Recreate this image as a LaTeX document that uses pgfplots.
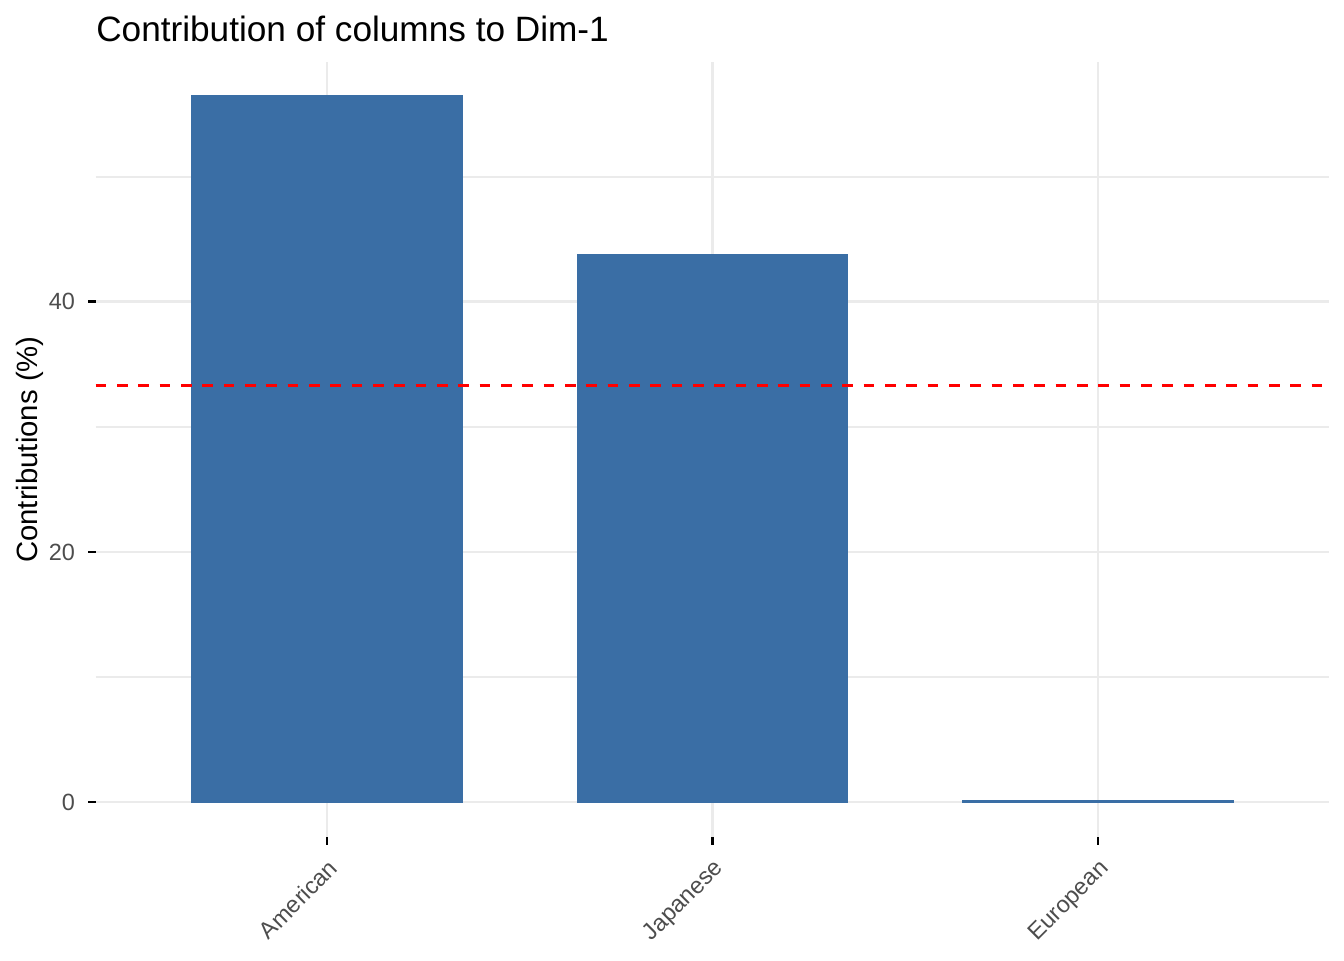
\documentclass[border=0pt]{standalone}
\usepackage{fontspec}
\setmainfont{Liberation Sans}
\usepackage{pgfplots}
\pgfplotsset{compat=1.18}
\definecolor{barblue}{RGB}{58,110,165}
\definecolor{gridgrey}{RGB}{235,235,235}
\definecolor{ticktext}{RGB}{77,77,77}
\begin{document}
\begin{tikzpicture}
\useasboundingbox (0,0) rectangle (504pt,360pt);
\begin{axis}[
  at={(35.9pt,46pt)}, anchor=south west,
  scale only axis, width=462.6pt, height=290.8pt,
  xmin=0.4, xmax=3.6, ymin=-2.83, ymax=59.2,
  axis x line*=bottom, axis y line*=left,
  axis line style={draw=none},
  xtick={1,2,3}, xticklabels={American,Japanese,European},
  ytick={0,20,40}, minor ytick={10,30,50},
  grid=major, yminorgrids,
  major grid style={gridgrey, line width=1.07pt},
  minor grid style={gridgrey, line width=0.53pt},
  tick align=outside, major tick length=2.75pt, minor tick length=0pt,
  major tick style={black, line width=1.07pt},
  tick label style={font=\fontsize{8.8}{10}\selectfont, text=ticktext},
  yticklabel style={xshift=-1.5pt},
  xticklabel style={rotate=45, anchor=north east},
  /pgf/number format/assume math mode=true,
  ylabel={Contributions (\%)},
  ylabel style={at={(axis description cs:-0.0533,0.5)}, anchor=center, font=\fontsize{11}{13}\selectfont},
  title={Contribution of columns to Dim-1},
  title style={at={(axis description cs:0,1)}, anchor=base west, yshift=1.5pt, inner sep=0pt, font=\fontsize{13.2}{15}\selectfont},
]
\addplot[ybar, bar width=0.7, fill=barblue, draw=barblue, line width=0.5pt]
  coordinates {(1,56.5) (2,43.75) (3,0.08)};
\addplot[red, dash pattern=on 4pt off 4pt, line width=1.07pt]
  coordinates {(0.4,33.33) (3.6,33.33)};
\end{axis}
\end{tikzpicture}
\end{document}
